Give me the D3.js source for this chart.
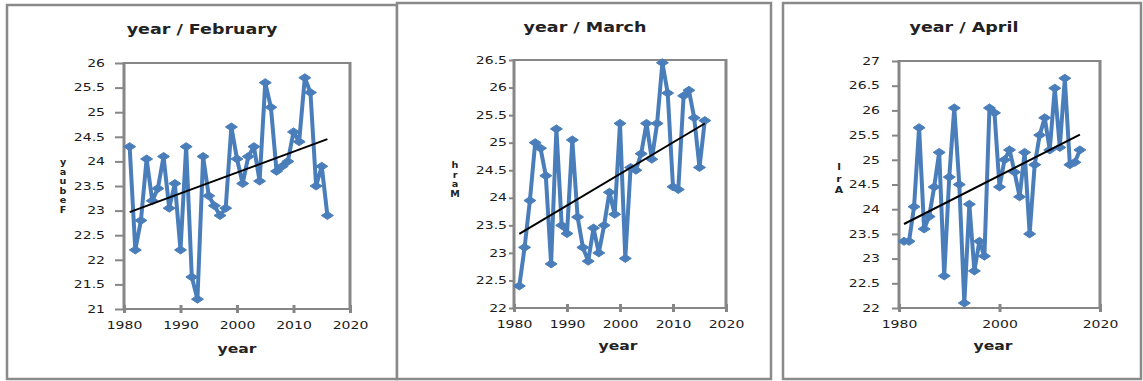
<!DOCTYPE html>
<html>
<head>
<meta charset="utf-8">
<script src="https://cdn.jsdelivr.net/npm/d3@7"></script>
<style>
  body { margin: 0; background: #fff; }
  svg { display: block; }
</style>
</head>
<body>
<script>
// Define SVG dimensions
const width = 1143
const height = 381

// Data: one value per year, 1981-2016
const years = [1981, 1982, 1983, 1984, 1985, 1986, 1987, 1988, 1989, 1990,
               1991, 1992, 1993, 1994, 1995, 1996, 1997, 1998, 1999, 2000,
               2001, 2002, 2003, 2004, 2005, 2006, 2007, 2008, 2009, 2010,
               2011, 2012, 2013, 2014, 2015, 2016];

const febValues = [24.3, 22.2, 22.8, 24.05, 23.2, 23.45, 24.1, 23.05, 23.55, 22.2,
                   24.3, 21.65, 21.2, 24.1, 23.3, 23.1, 22.9, 23.05, 24.7, 24.05,
                   23.55, 24.1, 24.3, 23.6, 25.6, 25.1, 23.8, 23.9, 24.0, 24.6,
                   24.4, 25.7, 25.4, 23.5, 23.9, 22.9];

const marValues = [22.4, 23.1, 23.95, 25.0, 24.9, 24.4, 22.8, 25.25, 23.5, 23.35,
                   25.05, 23.65, 23.1, 22.85, 23.45, 23.0, 23.5, 24.1, 23.7, 25.35,
                   22.9, 24.55, 24.5, 24.8, 25.35, 24.7, 25.35, 26.45, 25.9, 24.2,
                   24.15, 25.85, 25.95, 25.45, 24.55, 25.4];

const aprValues = [23.35, 23.35, 24.05, 25.65, 23.6, 23.85, 24.45, 25.15, 22.65, 24.65,
                   26.05, 24.5, 22.1, 24.1, 22.75, 23.35, 23.05, 26.05, 25.95, 24.45,
                   25.0, 25.2, 24.75, 24.25, 25.15, 23.5, 24.9, 25.5, 25.85, 25.2,
                   26.45, 25.25, 26.65, 24.9, 24.95, 25.2];

// Tick values
const febTicks = [21, 21.5, 22, 22.5, 23, 23.5, 24, 24.5, 25, 25.5, 26];
const marTicks = [22, 22.5, 23, 23.5, 24, 24.5, 25, 25.5, 26, 26.5];
const aprTicks = [22, 22.5, 23, 23.5, 24, 24.5, 25, 25.5, 26, 26.5, 27];
const yearTicks10 = [1980, 1990, 2000, 2010, 2020];
const yearTicks20 = [1980, 2000, 2020];

// Texts
const titles = ["year / February", "year / March", "year / April"];
const xTitle = "year";
const yTitleLetters = [["y", "a", "u", "b", "e", "F"], ["h", "r", "a", "M"], ["l", "r", "A"]];

// Panel layout (pixels)
const panels = [
  { values: febValues, yTicks: febTicks, xTicks: yearTicks10, yDomain: [21, 26],
    box: [7, 5, 390, 374], plot: [124, 350, 63, 309], gap: 19, tick: 9,
    title: [202, 34], xlab: [237, 353], ylab: [63, 165, 9.5, 8] },
  { values: marValues, yTicks: marTicks, xTicks: yearTicks10, yDomain: [22, 26.5],
    box: [397, 3, 374, 376], plot: [514, 726, 60, 308], gap: 7, tick: 5,
    title: [585, 32], xlab: [618, 350], ylab: [455, 168, 9.5, 8] },
  { values: aprValues, yTicks: aprTicks, xTicks: yearTicks20, yDomain: [22, 27],
    box: [783, 3, 358, 376], plot: [899, 1100, 61, 308], gap: 19, tick: 7,
    title: [964, 32], xlab: [993, 350], ylab: [839, 170, 11.5, 9] }
];

const blue = "#4a7ebb";
const gray = "#868686";
const font = "'DejaVu Sans', Verdana, sans-serif";
const tickStretch = 1.4;

const svg = d3.select("body")
  .append("svg")
  .attr("width", width)
  .attr("height", height);

// text that is stretched horizontally like the reference picture
function stretchText(g, x, y, str, size, weight, sx, anchor) {
  return g.append("text")
    .attr("transform", `translate(${x},${y}) scale(${sx},1)`)
    .attr("text-anchor", anchor || "middle")
    .attr("font-family", font)
    .attr("font-size", size)
    .attr("font-weight", weight)
    .attr("fill", "#222")
    .text(str);
}

// simple least squares trend
function trend(xs, ys) {
  const mx = d3.mean(xs), my = d3.mean(ys);
  let num = 0, den = 0;
  xs.forEach((x, i) => { num += (x - mx) * (ys[i] - my); den += (x - mx) * (x - mx); });
  const b = num / den;
  return x => my + b * (x - mx);
}

panels.forEach((p, i) => {
  const g = svg.append("g");
  const [bx, by, bw, bh] = p.box;
  const [l, r, t, b] = p.plot;

  // outer box
  g.append("rect")
    .attr("x", bx).attr("y", by).attr("width", bw).attr("height", bh)
    .attr("fill", "#fff").attr("stroke", "#8a8a8a").attr("stroke-width", 2.5);

  const x = d3.scaleLinear().domain([1980, 2020]).range([l, r]);
  const y = d3.scaleLinear().domain(p.yDomain).range([b, t]);

  // y axis
  const yAxis = g.append("g")
    .attr("transform", `translate(${l},0)`)
    .call(d3.axisLeft(y).tickValues(p.yTicks).tickSize(p.tick).tickFormat(d3.format("")));
  yAxis.select(".domain").remove();
  yAxis.selectAll("line").attr("stroke", gray).attr("stroke-width", 2);
  yAxis.selectAll("text")
    .attr("x", -p.gap / tickStretch)
    .attr("transform", `scale(${tickStretch},1)`)
    .attr("font-family", font).attr("font-size", 10).attr("fill", "#1a1a1a");

  // x axis
  const xAxis = g.append("g")
    .attr("transform", `translate(0,${b})`)
    .call(d3.axisBottom(x).tickValues(p.xTicks).tickSize(4).tickFormat(d3.format("d")));
  xAxis.select(".domain").remove();
  xAxis.selectAll("line").attr("y1", -4).attr("stroke", gray).attr("stroke-width", 3);
  xAxis.selectAll("text")
    .attr("x", 0).attr("y", 20).attr("dy", 0)
    .attr("transform", `scale(${tickStretch},1)`)
    .attr("font-family", font).attr("font-size", 10).attr("fill", "#1a1a1a");

  // plot frame
  g.append("line").attr("x1", l).attr("x2", r).attr("y1", t).attr("y2", t)
    .attr("stroke", gray).attr("stroke-width", 2);
  g.append("line").attr("x1", l).attr("x2", r).attr("y1", b).attr("y2", b)
    .attr("stroke", gray).attr("stroke-width", 2);
  g.append("line").attr("x1", l).attr("x2", l).attr("y1", t - 1).attr("y2", b + 1)
    .attr("stroke", gray).attr("stroke-width", 3);
  g.append("line").attr("x1", r).attr("x2", r).attr("y1", t - 1).attr("y2", b + 1)
    .attr("stroke", gray).attr("stroke-width", 3);

  // data line
  const pts = years.map((yr, k) => ({ yr: yr, v: p.values[k] }));
  g.append("path")
    .datum(pts)
    .attr("fill", "none")
    .attr("stroke", blue)
    .attr("stroke-width", 4)
    .attr("stroke-linejoin", "round")
    .attr("d", d3.line().x(d => x(d.yr)).y(d => y(d.v)));

  // diamond markers
  g.selectAll(".marker")
    .data(pts)
    .join("path")
    .attr("class", "marker")
    .attr("d", "M-6,0L0,-4L6,0L0,4Z")
    .attr("transform", d => `translate(${x(d.yr)},${y(d.v)})`)
    .attr("fill", blue)
    .attr("stroke", blue)
    .attr("stroke-width", 1);

  // linear trend line
  const f = trend(years, p.values);
  const x0 = years[0], x1 = years[years.length - 1];
  g.append("line")
    .attr("x1", x(x0)).attr("y1", y(f(x0)))
    .attr("x2", x(x1)).attr("y2", y(f(x1)))
    .attr("stroke", "#000").attr("stroke-width", 2);

  // titles
  stretchText(g, p.title[0], p.title[1], titles[i], 14, "bold", 1.25);
  stretchText(g, p.xlab[0], p.xlab[1], xTitle, 12, "bold", 1.3);

  // stacked y title letters
  const [lx, ly, step, size] = p.ylab;
  yTitleLetters[i].forEach((ch, k) => {
    stretchText(g, lx, ly + k * step, ch, size, "bold", 1.2);
  });
});
</script>
</body>
</html>
